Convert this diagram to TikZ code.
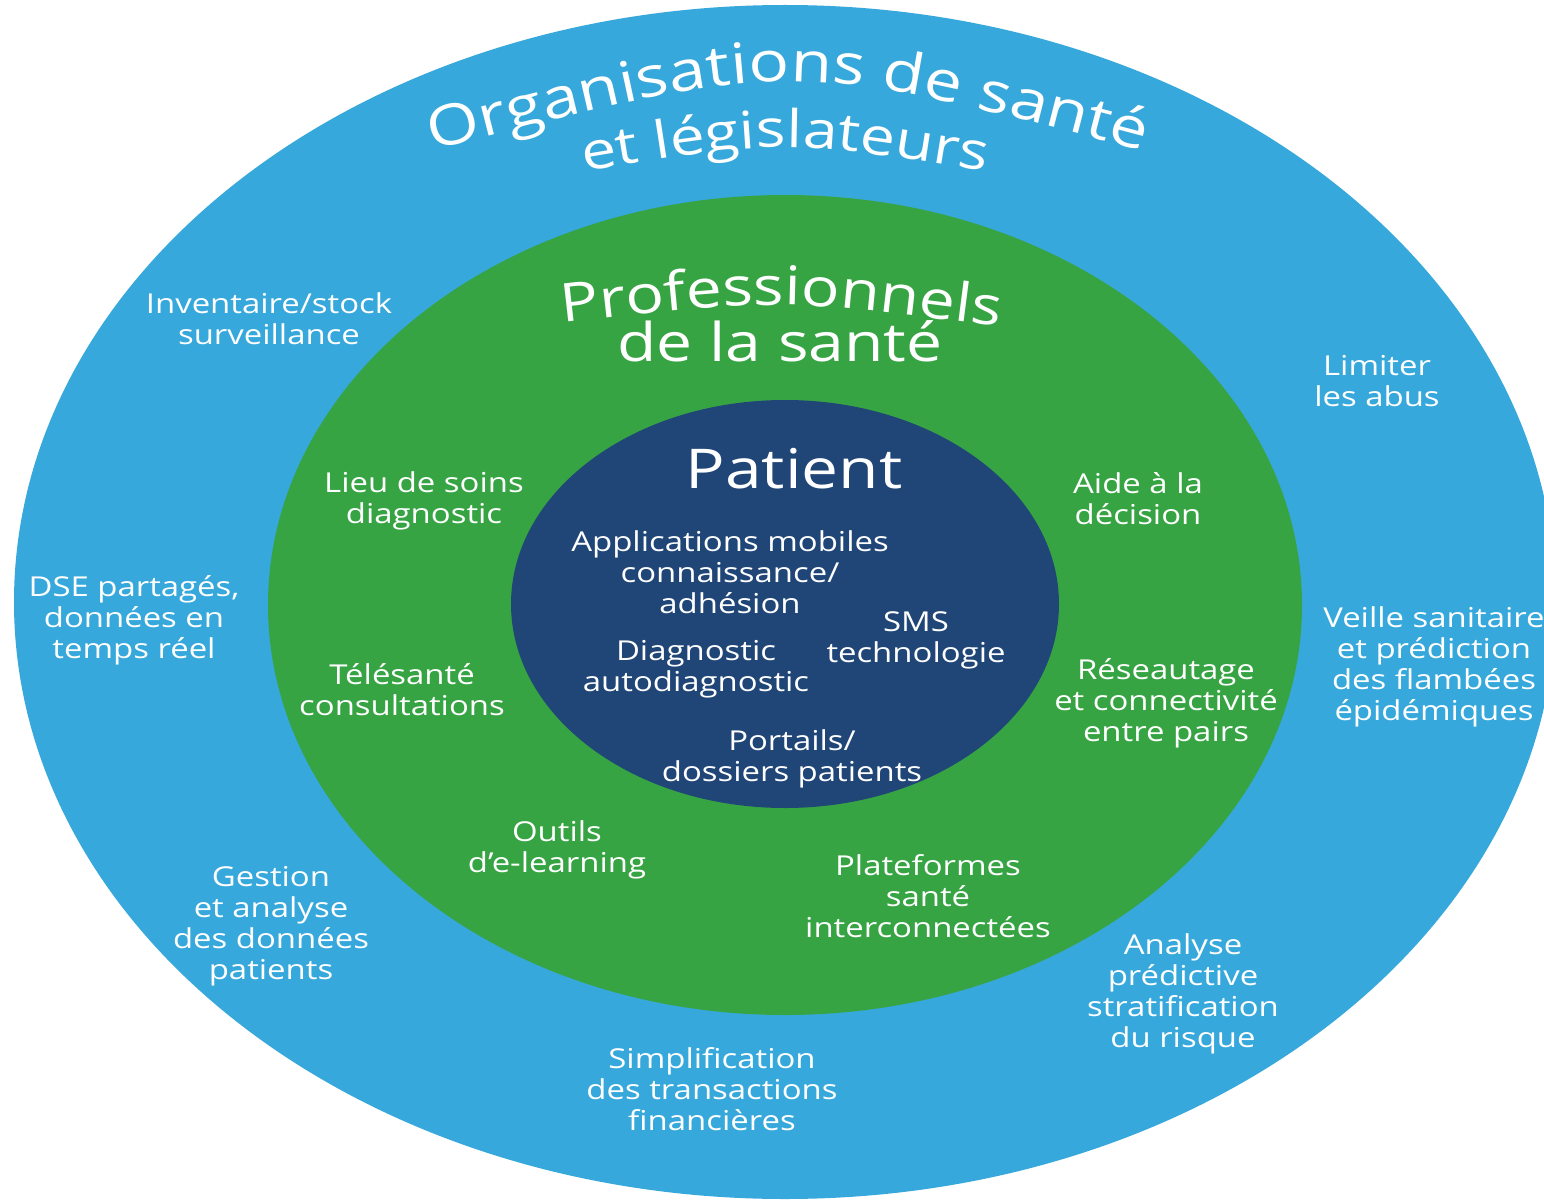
\documentclass[tikz,border=0pt]{standalone}
\usepackage{fontspec}
\setmainfont{Open Sans}[FakeStretch=1.2]
\usetikzlibrary{decorations.text}
\definecolor{anneaubleu}{HTML}{37A8DB}
\definecolor{anneauvert}{HTML}{37A443}
\definecolor{noyaubleu}{HTML}{204577}

\begin{document}
\begin{tikzpicture}[x=0.025cm, y=-0.025cm,
                    every node/.style={white, align=center, inner sep=0pt,
                                       font=\fontsize{19.5}{22}\selectfont},
                    titre/.style={white, inner sep=0pt}]

\useasboundingbox (0,0) rectangle (1544,1201);

%% ==== les trois anneaux ============================================
\fill[anneaubleu] (785,602) ellipse [x radius=771, y radius=597];
\fill[anneauvert] (785,605) ellipse [x radius=517, y radius=410];
\fill[noyaubleu]  (785,604) ellipse [x radius=274, y radius=204];

%% ==== anneau extérieur =============================================
%% titre courbé, deux lignes
\path[decorate, decoration={text along path, text align=center, text color=white,
      text={|\fontsize{40}{40}\selectfont|Organisations de santé}}]
  (428,152) .. controls (790,58) .. (1148,152);
\path[decorate, decoration={text along path, text align=center, text color=white,
      text={|\fontsize{37}{37}\selectfont|et législateurs}}]
  (565,175) .. controls (785,138) .. (1005,175);

\node (inventaire) at (269,319) {Inventaire/stock\\surveillance};
\node (abus)       at (1377,381) {Limiter\\les abus};
\node (dse)        at (134,620) {DSE partagés,\\données en\\temps réel};
\node (veille)     at (1434,667) {Veille sanitaire\\et prédiction\\des flambées\\épidémiques};
\node (gestion)    at (271,926) {Gestion\\et analyse\\des données\\patients};
\node (analyse)    at (1183,994) {Analyse\\prédictive\\stratification\\du risque};
\node (finances)   at (712,1089) {Simplification\\des transactions\\financières};

%% ==== anneau du milieu =============================================
\path[decorate, decoration={text along path, text align=center, text color=white,
      text={|\fontsize{38}{38}\selectfont|Professionnels}}]
  (552,324) .. controls (780,298) .. (1010,328);
\node[titre, anchor=base, font=\fontsize{38}{38}\selectfont] (delasante) at (780,361) {de la santé};

\node (lieu)       at (424,501) {Lieu de soins\\diagnostic};
\node (aide)       at (1138,499) {Aide à la\\décision};
\node (telesante)  at (402,690) {Télésanté\\consultations};
\node (reseau)     at (1166,703) {Réseautage\\et connectivité\\entre pairs};
\node (outils)     at (557,850) {Outils\\d’e-learning};
\node (plateformes) at (928,896) {Plateformes\\santé\\interconnectées};

%% ==== noyau: le patient ============================================
\node[titre, anchor=base, font=\fontsize{39}{39}\selectfont] (patient) at (794,488) {Patient};

\node (applis)     at (730,572) {Applications mobiles\\connaissance/\\adhésion};
\node (sms)        at (916,640) {SMS\\technologie};
\node (diagnostic) at (696,669) {Diagnostic\\autodiagnostic};
\node (portails)   at (792,759) {Portails/\\dossiers patients};

\end{tikzpicture}
\end{document}
